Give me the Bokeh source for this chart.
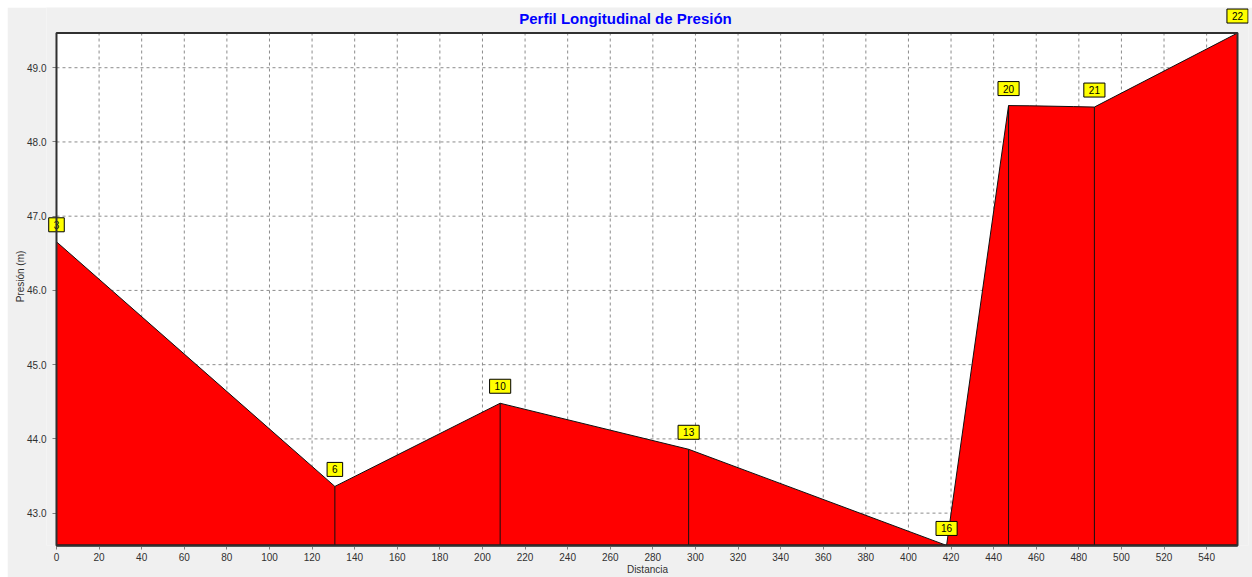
from bokeh.plotting import figure
from bokeh.models import Range1d, FixedTicker, PrintfTickFormatter, Label
from bokeh.embed import file_html
from bokeh.resources import INLINE

# ---- data ----
distance = [0.0, 130.7, 208.3, 296.8, 417.9, 447.0, 457.0, 477.6, 487.3, 554.5]
pressure = [46.655, 43.36, 44.48, 43.86, 42.565, 48.49, 48.487, 48.476, 48.47, 49.467]

node_ids = ["3", "6", "10", "13", "16", "20", "21", "22"]
node_distance = [0.0, 130.7, 208.3, 296.8, 417.9, 447.0, 487.3, 554.5]
node_pressure = [46.655, 43.36, 44.48, 43.86, 42.565, 48.49, 48.47, 49.467]

x_ticks = [0, 20, 40, 60, 80, 100, 120, 140, 160, 180, 200, 220, 240, 260, 280,
           300, 320, 340, 360, 380, 400, 420, 440, 460, 480, 500, 520, 540]
y_ticks = [43.0, 44.0, 45.0, 46.0, 47.0, 48.0, 49.0]

title_text = "Perfil Longitudinal de Presión"
x_label = "Distancia"
y_label = "Presión (m)"

# chart area limits
x_min, x_max = 0.0, 554.5
y_min, y_max = 42.564, 49.467
# extra room inside the canvas frame so the node tags are not clipped
x_pad_lo, x_pad_hi, y_pad_hi = 4.69, 5.16, 0.344

FONT = "Liberation Sans"
GRAY_BG = "#f0f0f0"

p = figure(width=1245, height=570, output_backend="svg", toolbar_location=None, title=None,
           x_range=Range1d(x_min - x_pad_lo, x_max + x_pad_hi),
           y_range=Range1d(y_min, y_max + y_pad_hi),
           min_border_left=39, min_border_right=4, min_border_top=0, min_border_bottom=31,
           border_fill_color=GRAY_BG, background_fill_color=GRAY_BG)
p.margin = (7, 0, 0, 7)
p.outline_line_color = None
p.grid.visible = False

for ax in (p.xaxis, p.yaxis):
    ax.major_label_text_font = FONT
    ax.major_label_text_font_size = "10px"
    ax.major_label_text_color = "#303030"
    ax.axis_label_text_font = FONT
    ax.axis_label_text_font_size = "10px"
    ax.axis_label_text_font_style = "normal"
    ax.axis_label_text_color = "#303030"
    ax.major_tick_line_color = "#808080"
    ax.minor_tick_line_color = None

p.xaxis.ticker = FixedTicker(ticks=x_ticks)
p.xaxis.bounds = (x_min, x_max)
p.xaxis.axis_label = x_label
p.xaxis.major_tick_out = 4
p.xaxis.major_tick_in = 0
p.xaxis.major_label_standoff = 3
p.xaxis.axis_label_standoff = 0
p.xaxis.axis_line_color = "black"
p.xaxis.axis_line_width = 2

p.yaxis.ticker = FixedTicker(ticks=y_ticks)
p.yaxis.bounds = (y_min, y_max)
p.yaxis.formatter = PrintfTickFormatter(format="%.1f")
p.yaxis.axis_label = y_label
p.yaxis.axis_line_color = None
p.yaxis.major_tick_out = -6
p.yaxis.major_tick_in = 10
p.yaxis.major_label_standoff = 0
p.yaxis.axis_label_standoff = -2

# white chart area
p.quad(left=[x_min], right=[x_max], bottom=[y_min], top=[y_max],
       fill_color="white", line_color=None, level="image")

# dashed grid limited to the chart area
p.segment(x0=x_ticks, y0=[y_min] * len(x_ticks), x1=x_ticks, y1=[y_max] * len(x_ticks),
          line_color="#8c8c8c", line_dash="3 3", line_width=1, level="underlay")
p.segment(x0=[x_min] * len(y_ticks), y0=y_ticks, x1=[x_max] * len(y_ticks), y1=y_ticks,
          line_color="#8c8c8c", line_dash="3 3", line_width=1, level="underlay")

# pressure profile
base = [y_min] * len(distance)
p.varea(x=distance, y1=base, y2=pressure, fill_color="#ff0000")
p.line(distance, pressure, line_color="#101010", line_width=1)
p.segment(x0=node_distance, y0=node_pressure, x1=node_distance, y1=[y_min] * len(node_distance),
          line_color="#101010", line_width=1)

# chart area border
p.quad(left=[x_min], right=[x_max], bottom=[y_min], top=[y_max],
       fill_color=None, line_color="#303030", line_width=2, level="overlay")

# node tags
for nid, nx, ny in zip(node_ids, node_distance, node_pressure):
    p.add_layout(Label(x=nx, y=ny, text=nid, text_align="center", text_baseline="bottom",
                       y_offset=10, text_font=FONT, text_font_size="10px", text_color="black",
                       background_fill_color="#ffff00", border_line_color="black",
                       border_line_width=1, padding=(5, 3)))

# title
p.add_layout(Label(x=579, y=536, x_units="screen", y_units="screen", text=title_text,
                   text_align="center", text_baseline="top", text_font=FONT,
                   text_font_size="15px", text_font_style="bold", text_color="#0000ff"))

open("out.html", "w").write(file_html(p, INLINE))
